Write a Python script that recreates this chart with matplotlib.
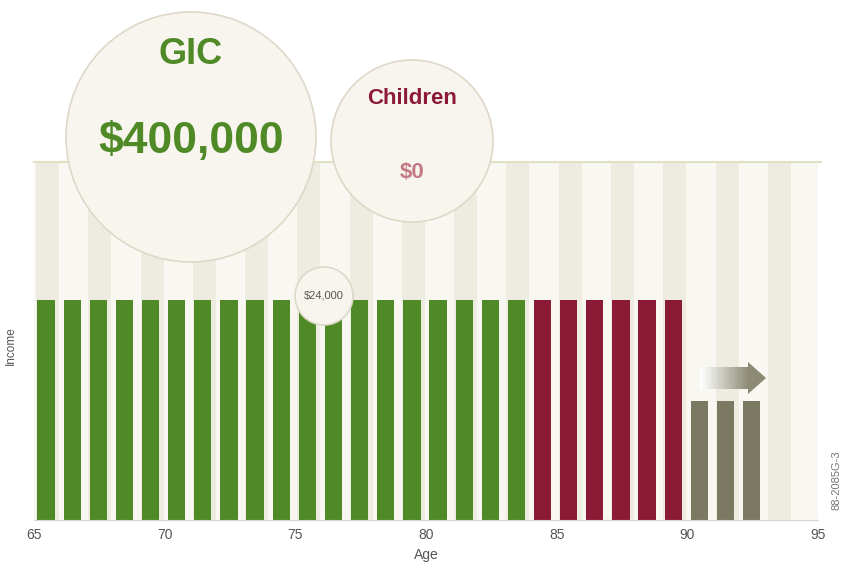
import numpy as np
import matplotlib.pyplot as plt
from matplotlib.patches import Circle, Rectangle
import matplotlib.colors as mcolors

plt.rcParams['font.family'] = ['Liberation Sans', 'DejaVu Sans']

# data
gic_ages = np.arange(65, 84)
gic_income = [24000] * len(gic_ages)
child_ages = np.arange(84, 90)
child_income = [24000] * len(child_ages)
gov_ages = np.arange(90, 93)
gov_income = [13000] * len(gov_ages)
stripe_ages = np.arange(65, 95)
stripe_top = 39000
xticks = [65, 70, 75, 80, 85, 90, 95]

green = '#4f8a27'
red = '#8b1a36'
grey = '#7c7962'

W, H = 842, 563
fig = plt.figure(figsize=(W / 100, H / 100), dpi=100)
fig.patch.set_facecolor('white')

ax = fig.add_axes([34 / W, 43 / H, 784 / W, 520 / H])
ax.set_xlim(65, 95)
ax.set_ylim(0, 56700)

# background stripes
for a in stripe_ages:
    ax.bar(a, stripe_top, width=1.0, align='edge', color='#f9f7f1', zorder=0)
    if (a - 65) % 2 == 0:
        ax.bar(a + 0.08, stripe_top, width=0.88, align='edge', color='#eeebe0', zorder=0)
ax.plot([65, 95.1], [stripe_top, stripe_top], color='#dfe2c2', lw=1.5, zorder=1,
        clip_on=False)

off = 0.13
ax.bar(gic_ages + off, gic_income, width=0.66, align='edge', color=green, zorder=2)
ax.bar(child_ages + off, child_income, width=0.66, align='edge', color=red, zorder=2)
ax.bar(gov_ages + off, gov_income, width=0.66, align='edge', color=grey, zorder=2)

for s in ['top', 'right', 'left']:
    ax.spines[s].set_visible(False)
ax.spines['bottom'].set_color('#d5d5d5')
ax.set_yticks([])
ax.set_xticks(xticks)
ax.tick_params(axis='x', length=0, pad=6, labelsize=10, labelcolor='#555555')
ax.set_xlabel('Age', fontsize=10, color='#555555', labelpad=4)
ax.set_ylabel('Income', fontsize=8.5, color='#555555', labelpad=10)
ax.yaxis.set_label_coords(-0.022, 0.335)
ax.set_facecolor('none')

# overlay in pixel coords for circles, arrow and notes
ov = fig.add_axes([0, 0, 1, 1])
ov.set_xlim(0, W)
ov.set_ylim(H, 0)
ov.axis('off')

for cx, cy, r in [(191, 137, 125), (412, 141, 81), (324, 296, 29)]:
    ov.add_patch(Circle((cx, cy), r, facecolor='#f8f5ef', edgecolor='#ddd8c8', lw=1.2))

ov.text(191, 55, 'GIC', ha='center', va='center', fontsize=26, fontweight='bold', color=green)
ov.text(191, 142, '$400,000', ha='center', va='center', fontsize=32, fontweight='bold', color=green)
ov.text(412, 99, 'Children', ha='center', va='center', fontsize=16, fontweight='bold', color=red)
ov.text(412, 173, '$0', ha='center', va='center', fontsize=16, fontweight='bold', color='#c27a86')
ov.text(324, 295, '$24,000', ha='center', va='center', fontsize=8, color='#555555')

# gradient arrow
n = 40
cmap = mcolors.LinearSegmentedColormap.from_list('arr', ['#ffffff', '#8d8a74'])
x0, x1, yc, hb = 700, 748, 378, 11
for i in range(n):
    xa = x0 + (x1 - x0) * i / n
    ov.add_patch(Rectangle((xa, yc - hb), (x1 - x0) / n + 0.5, 2 * hb,
                           facecolor=cmap(i / n), edgecolor='none'))
ov.add_patch(plt.Polygon([[x1, yc - 16], [766, yc], [x1, yc + 16]],
                         facecolor='#8d8a74', edgecolor='none'))

ov.text(836, 480, '88-2085G-3', rotation=90, ha='center', va='center', fontsize=8,
        color='#777777')

fig.savefig('out.png', dpi=100, facecolor='white')
